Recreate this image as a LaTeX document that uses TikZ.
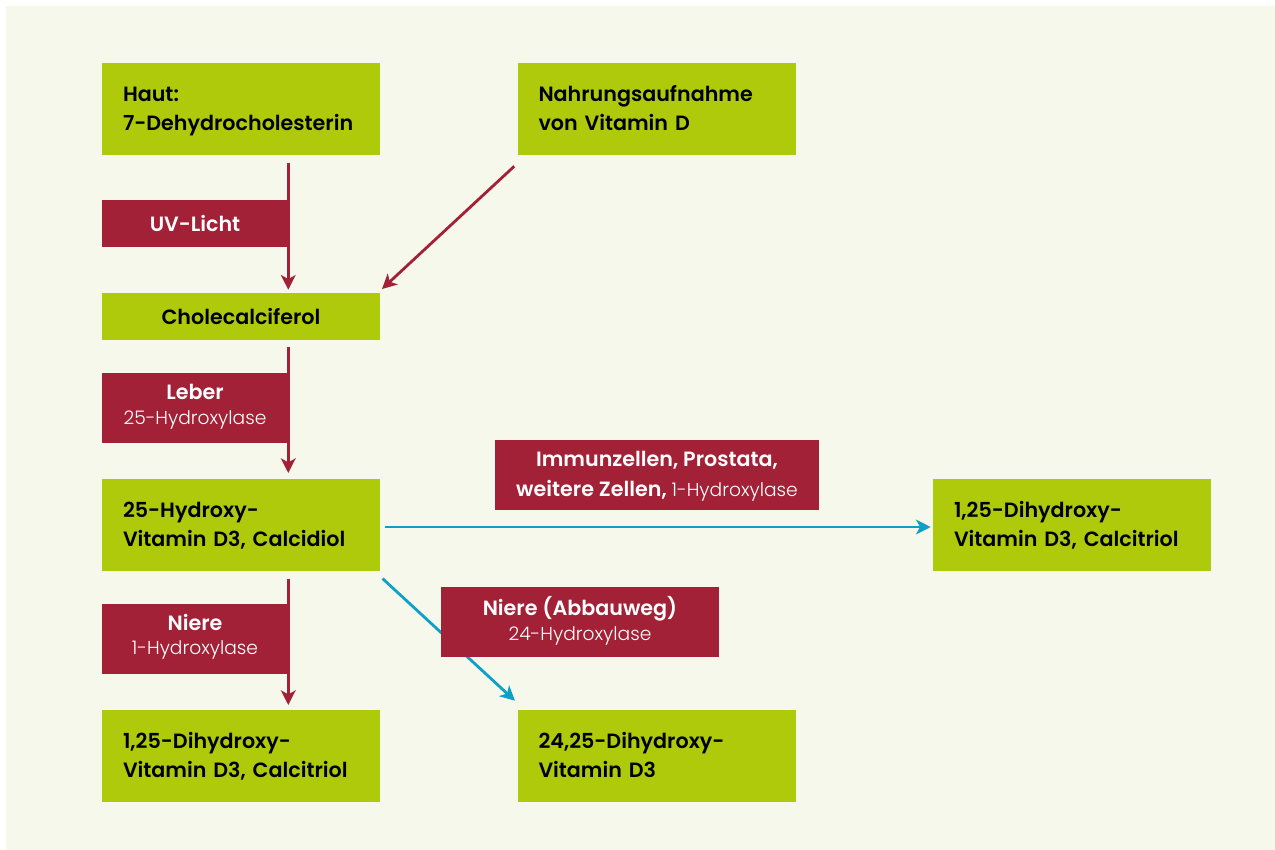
\documentclass[tikz,border=0pt]{standalone}
\usepackage{fontspec}
\setmainfont{Poppins}
\newfontfamily\med{Poppins SemiBold}
\newfontfamily\lite{Poppins Light}
\usetikzlibrary{arrows.meta,calc}
\definecolor{bgc}{HTML}{F6F8EB}
\definecolor{grn}{HTML}{AFCA0B}
\definecolor{rdc}{HTML}{A32136}
\definecolor{blu}{HTML}{0EA0C6}
\pgfdeclarelayer{back}
\pgfdeclarelayer{lines}
\pgfsetlayers{back,lines,main}
\tikzset{
  gbox/.style={rectangle, fill=grn, inner xsep=15.75pt, inner ysep=0pt,
    text width=177pt, minimum height=69pt, align=left,
    font=\med\fontsize{15.5}{22.3}\selectfont, text=black},
  gsmall/.style={gbox, minimum height=35.25pt, align=center},
  rbox/.style={rectangle, fill=rdc, inner sep=0pt, minimum height=52.5pt,
    align=center, text=white, font=\med\fontsize{15.5}{18.2}\selectfont},
  conn/.style={line width=2.1pt, -{Stealth[length=11pt,width=11pt,inset=3pt]}},
  rconn/.style={conn, draw=rdc},
  bconn/.style={conn, draw=blu},
}
\newcommand{\lt}[1]{{\lite\fontsize{14}{18}\selectfont #1}}
\newcommand{\tp}[1]{\rule{0pt}{#1}}
\newcommand{\bt}[1]{\rule[-#1]{0pt}{0pt}}
\begin{document}
\begin{tikzpicture}[x=0.75pt,y=-0.75pt]
\begin{pgfonlayer}{back}
\fill[white] (0,0) rectangle (1275,850);
\fill[bgc] (6,6) rectangle (1275,850);
\end{pgfonlayer}
\useasboundingbox (0,0) rectangle (1275,850);

% green boxes
\node[gbox] (haut) at (241,109.3) {\tp{14pt}Haut:\\7-Dehydrocholesterin\bt{4.1pt}};
\node[gbox] (nahr) at (656.5,109.3) {\tp{14pt}Nahrungsaufnahme\\von Vitamin D\bt{4.1pt}};
\node[gsmall] (chole) at (241,316.5) {Cholecalciferol};
\node[gbox] (calcid) at (241,525.3) {\tp{14pt}25-Hydroxy-\\Vitamin D3, Calcidiol\bt{4.1pt}};
\node[gbox] (calcitR) at (1072,525.3) {\tp{14pt}1,25-Dihydroxy-\\Vitamin D3, Calcitriol\bt{4.1pt}};
\node[gbox] (calcitB) at (241,756.3) {\tp{14pt}1,25-Dihydroxy-\\Vitamin D3, Calcitriol\bt{4.1pt}};
\node[gbox] (d2425) at (656.5,756.3) {\tp{14pt}24,25-Dihydroxy-\\Vitamin D3\bt{4.1pt}};

% red boxes
\node[rbox, minimum width=139.5pt, minimum height=35.25pt] (uv) at (195,223.5) {UV-Licht};
\node[rbox, minimum width=139.5pt] (leber) at (195,408) {\tp{13pt}Leber\\\lt{25-Hydroxylase}\bt{7pt}};
\node[rbox, minimum width=139.5pt] (niere) at (195,638.7) {\tp{13pt}Niere\\\lt{1-Hydroxylase}\bt{7.6pt}};
\node[rbox, minimum width=243pt, font=\med\fontsize{15.5}{23}\selectfont] (immun) at (657,475)
  {\tp{14pt}Immunzellen, Prostata,\\weitere Zellen, \lt{1-Hydroxylase}\bt{4.5pt}};
\node[rbox, minimum width=208.5pt, font=\med\fontsize{15.5}{18.75}\selectfont] (abbau) at (580,622)
  {\tp{13pt}Niere (Abbauweg)\\\lt{24-Hydroxylase}\bt{4.75pt}};

% connectors
\begin{pgfonlayer}{lines}
\coordinate (a1) at ($(haut.south -| uv.east)+(0,7)$);
\coordinate (a2) at ($(chole.north -| uv.east)+(0,-3)$);
\draw[rconn] (a1) -- (a2);
\coordinate (b1) at ($(nahr.south west)+(-3,10.7)$);
\coordinate (b2) at ($(chole.north east)+(1.7,-3.7)$);
\draw[rconn] (b1) -- (b2);
\coordinate (c1) at ($(chole.south -| uv.east)+(0,7)$);
\coordinate (c2) at ($(calcid.north -| uv.east)+(0,-6)$);
\draw[rconn] (c1) -- (c2);
\coordinate (d1) at ($(calcid.south -| uv.east)+(0,7)$);
\coordinate (d2) at ($(calcitB.north -| uv.east)+(0,-5)$);
\draw[rconn] (d1) -- (d2);
\coordinate (e1) at ($(calcid.east)+(5,1.7)$);
\coordinate (e2) at ($(calcitR.west)+(-2,1.7)$);
\draw[bconn] (e1) -- (e2);
\coordinate (f1) at ($(calcid.south east)+(2.3,7)$);
\coordinate (f2) at ($(d2425.north west)+(-2.3,-9.3)$);
\draw[bconn] (f1) -- (f2);
\end{pgfonlayer}
\end{tikzpicture}
\end{document}
